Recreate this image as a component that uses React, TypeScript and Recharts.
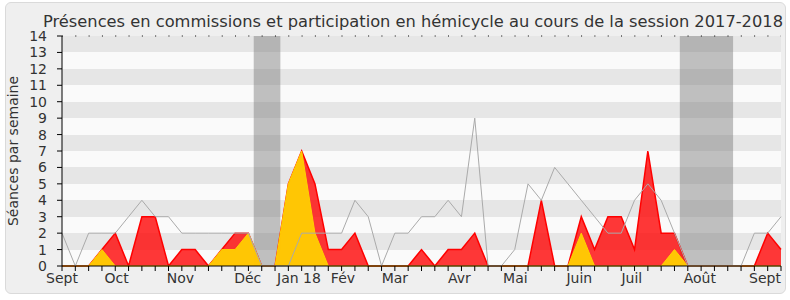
import React from "react";
import {
  ComposedChart,
  Area,
  Line,
  XAxis,
  YAxis,
  CartesianGrid,
  ReferenceArea,
  ReferenceLine,
} from "recharts";

// one point per week, from the first week of September 2017
const weeks = Array.from({ length: 55 }, (_, i) => i);

// grey line
const mediane = [
  2, 0, 2, 2, 2, 3, 4, 3, 3, 2, 2, 2, 2, 2, 2, 0, 0, 0, 2, 2, 2, 2, 4, 3, 0, 2,
  2, 3, 3, 4, 3, 9, 0, 0, 1, 5, 4, 6, 5, 4, 3, 2, 2, 4, 5, 4, 2, 0, 0, 0, 0, 0,
  2, 2, 3,
];

// red area
const hemicycle = [
  0, 0, 0, 1, 2, 0, 3, 3, 0, 1, 1, 0, 1, 2, 2, 0, 0, 5, 7, 5, 1, 1, 2, 0, 0, 0,
  0, 1, 0, 1, 1, 2, 0, 0, 0, 0, 4, 0, 0, 3, 1, 3, 3, 1, 7, 2, 2, 0, 0, 0, 0, 0,
  0, 2, 1,
];

// yellow area
const commissions = [
  0, 0, 0, 1, 0, 0, 0, 0, 0, 0, 0, 0, 1, 1, 2, 0, 0, 5, 7, 2, 0, 0, 0, 0, 0, 0,
  0, 0, 0, 0, 0, 0, 0, 0, 0, 0, 0, 0, 0, 2, 0, 0, 0, 0, 0, 0, 1, 0, 0, 0, 0, 0,
  0, 0, 0,
];

const monthLabels = [
  "Sept", "Oct", "Nov", "Déc", "Jan 18", "Fév", "Mar",
  "Avr", "Mai", "Juin", "Juil", "Août", "Sept",
];
const monthPositions = [
  0, 4.1, 8.9, 13.95, 17.8, 21.1, 25, 29.85, 34.05, 38.85, 42.8, 47.9, 52.8,
];

// parliamentary holidays (in weeks)
const vacances = [
  [14.4, 16.4],
  [46.4, 50.4],
];

const yTicks = Array.from({ length: 15 }, (_, i) => i);

const data = weeks.map((w, i) => ({
  week: w,
  mediane: mediane[i],
  hemicycle: hemicycle[i],
  commissions: commissions[i],
}));

const xTicks = Array.from(new Set([...weeks, ...monthPositions])).sort(
  (a, b) => a - b
);

const FONT = "'DejaVu Sans', Verdana, sans-serif";

function WeekTick(props: any) {
  const { x, y, payload } = props;
  const v = payload.value;
  const idx = monthPositions.indexOf(v);
  return (
    <g>
      {Number.isInteger(v) && (
        <line x1={x} x2={x} y1={y} y2={y + 5} stroke="#000" />
      )}
      {idx >= 0 && (
        <text
          x={x}
          y={y + 17}
          textAnchor="middle"
          fontSize={14}
          fill="#333"
          fontFamily={FONT}
        >
          {monthLabels[idx]}
        </text>
      )}
    </g>
  );
}

export default function App() {
  return (
    <div
      style={{
        position: "absolute",
        left: 0,
        top: 0,
        width: 790,
        height: 300,
        background: "#fff",
        fontFamily: FONT,
      }}
    >
      <div
        style={{
          position: "absolute",
          left: 5,
          top: 2,
          width: 779,
          height: 290,
          border: "1px solid #dadada",
          borderRadius: 6,
          background: "#efefef",
        }}
      />
      <div style={{ position: "absolute", left: 0, top: 0 }}>
        <ComposedChart
          width={790}
          height={300}
          data={data}
          margin={{ top: 36, right: 9, bottom: 4, left: 32 }}
        >
          <CartesianGrid
            vertical={false}
            stroke="none"
            horizontalFill={["#e6e6e6", "#fafafa"]}
          />
          {vacances.map(([a, b], i) => (
            <ReferenceArea
              key={i}
              x1={a}
              x2={b}
              y1={0}
              y2={14}
              fill="#777"
              fillOpacity={0.45}
              stroke="none"
            />
          ))}
          <ReferenceLine
            y={14}
            stroke="#000"
            strokeDasharray="1 12.31"
          />
          <XAxis
            dataKey="week"
            type="number"
            domain={[0, 54]}
            ticks={xTicks}
            interval={0}
            tickSize={0}
            tickMargin={0}
            tickLine={false}
            height={30}
            axisLine={{ stroke: "#000" }}
            tick={<WeekTick />}
          />
          <YAxis
            type="number"
            domain={[0, 14]}
            ticks={yTicks}
            interval={0}
            width={30}
            tickSize={5}
            tickMargin={10}
            axisLine={{ stroke: "#000" }}
            tickLine={{ stroke: "#000" }}
            tick={{ fontSize: 14, fill: "#333", fontFamily: FONT }}
          />
          <Line
            type="linear"
            dataKey="mediane"
            stroke="#aaaaaa"
            strokeWidth={1}
            dot={false}
            isAnimationActive={false}
          />
          <Area
            type="linear"
            dataKey="hemicycle"
            stroke="#ff0000"
            strokeWidth={1.5}
            fill="#ff0000"
            fillOpacity={0.78}
            isAnimationActive={false}
          />
          <Area
            type="linear"
            dataKey="commissions"
            stroke="#ffd200"
            strokeWidth={1}
            fill="#ffd200"
            fillOpacity={0.92}
            isAnimationActive={false}
          />
        </ComposedChart>
      </div>
      <svg
        width={790}
        height={300}
        style={{ position: "absolute", left: 0, top: 0, pointerEvents: "none" }}
      >
        <text
          x={43}
          y={27}
          fontSize={16}
          fill="#333"
          fontFamily={FONT}
          textLength={740}
          lengthAdjust="spacingAndGlyphs"
        >
          Présences en commissions et participation en hémicycle au cours de la
          session 2017-2018
        </text>
        <text
          x={0}
          y={0}
          fontSize={14}
          fill="#333"
          fontFamily={FONT}
          textAnchor="middle"
          transform="translate(18,151) rotate(-90)"
        >
          Séances par semaine
        </text>
      </svg>
    </div>
  );
}
